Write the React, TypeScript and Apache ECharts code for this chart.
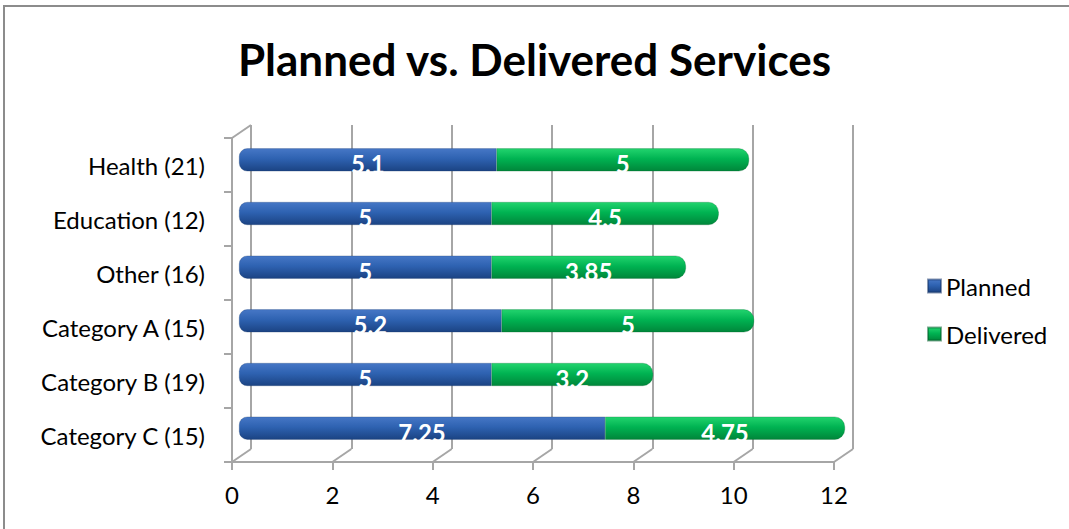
import React, { useEffect, useRef } from "react";
import * as echarts from "echarts";

const categories = ["Health (21)", "Education (12)", "Other (16)", "Category A (15)", "Category B (19)", "Category C (15)"];
const planned = [5.1, 5, 5, 5.2, 5, 7.25];
const delivered = [5, 4.5, 3.85, 5, 3.2, 4.75];
const xTicks = [0, 2, 4, 6, 8, 10, 12];
const titleText = "Planned vs. Delivered Services";

const FONT = "Lato, 'Open Sans', sans-serif";
const DEPTH_X = 19;
const DEPTH_Y = -13;

export default function App() {
  const ref = useRef<HTMLDivElement>(null);
  useEffect(() => {
    if (!ref.current) return;
    const chart = echarts.init(ref.current, undefined, { renderer: "svg" });
    const blue = new echarts.graphic.LinearGradient(0, 0, 0, 1, [
      { offset: 0, color: "#4677c6" },
      { offset: 0.45, color: "#2e62b1" },
      { offset: 1, color: "#1b4383" },
    ]);
    const green = new echarts.graphic.LinearGradient(0, 0, 0, 1, [
      { offset: 0, color: "#22d46e" },
      { offset: 0.45, color: "#00b352" },
      { offset: 1, color: "#00863a" },
    ]);
    const gridLineColor = "#a6a6a6";
    const labelStyle = {
      show: true,
      position: "inside",
      offset: [0, 4],
      color: "#fff",
      fontFamily: FONT,
      fontWeight: "bold",
      fontSize: 24,
    };
    const option: any = {
      animation: false,
      backgroundColor: "#ffffff",
      title: {
        text: titleText,
        left: "center",
        top: 32,
        textStyle: { fontFamily: FONT, fontWeight: "bold", fontSize: 44, color: "#000" },
      },
      legend: {
        orient: "vertical",
        left: 922,
        top: 267,
        itemWidth: 13,
        itemHeight: 13,
        itemGap: 20,
        icon: "rect",
        data: ["Planned", "Delivered"],
        textStyle: { fontFamily: FONT, fontSize: 24, color: "#000", lineHeight: 28 },
      },
      graphic: [
        {
          type: "rect",
          shape: { x: 4, y: 6, width: 1200, height: 700 },
          style: { fill: "none", stroke: "#8c8c8c", lineWidth: 2 },
          silent: true,
          z: 0,
        },
      ],
      grid: [
        { left: 232, right: 235, top: 138, bottom: 67 }, // front plane
        { left: 251, right: 216, top: 125, bottom: 80 }, // back plane
        { left: 239, right: 224, top: 133, bottom: 74 }, // bars
        { left: 232, right: 235, top: 138, bottom: 67 }, // connectors
      ],
      xAxis: [
        {
          gridIndex: 0,
          type: "value",
          min: 0,
          max: 12,
          interval: 2,
          axisLine: { show: true, lineStyle: { color: gridLineColor, width: 2 } },
          axisTick: { show: true, length: 8, lineStyle: { color: gridLineColor, width: 2 } },
          axisLabel: { margin: 20, fontFamily: FONT, fontSize: 24, color: "#000" },
          splitLine: { show: false },
        },
        {
          gridIndex: 1,
          type: "value",
          min: 0,
          max: 12,
          interval: 2,
          axisLine: { show: false },
          axisTick: { show: false },
          axisLabel: { show: false },
          splitLine: { show: true, lineStyle: { color: gridLineColor, width: 2 } },
        },
        { gridIndex: 2, type: "value", min: 0, max: 12, interval: 2, show: false },
        { gridIndex: 3, type: "value", min: 0, max: 12, interval: 2, show: false },
      ],
      yAxis: [
        {
          gridIndex: 0,
          type: "category",
          inverse: true,
          data: categories,
          axisLine: { show: true, lineStyle: { color: gridLineColor, width: 2 } },
          axisTick: { show: true, length: 8, lineStyle: { color: gridLineColor, width: 2 } },
          axisLabel: { margin: 27, fontFamily: FONT, fontSize: 24, color: "#000" },
        },
        { gridIndex: 1, type: "category", inverse: true, data: categories, show: false },
        { gridIndex: 2, type: "category", inverse: true, data: categories, show: false },
        { gridIndex: 3, type: "value", min: 0, max: 1, show: false },
      ],
      series: [
        {
          name: "Planned",
          type: "bar",
          stack: "total",
          xAxisIndex: 2,
          yAxisIndex: 2,
          barWidth: 23,
          data: planned,
          itemStyle: { color: blue, borderRadius: [8, 0, 0, 8], borderColor: "rgba(20,50,100,0.5)", borderWidth: 0.5 },
          label: labelStyle,
          z: 5,
        },
        {
          name: "Delivered",
          type: "bar",
          stack: "total",
          xAxisIndex: 2,
          yAxisIndex: 2,
          barWidth: 23,
          data: delivered,
          itemStyle: { color: green, borderRadius: [0, 10, 10, 0], borderColor: "rgba(0,90,40,0.5)", borderWidth: 0.5 },
          label: labelStyle,
          z: 5,
        },
        {
          name: "connectors",
          type: "custom",
          xAxisIndex: 3,
          yAxisIndex: 3,
          silent: true,
          data: [...xTicks.map((v) => [v, 0]), [0, 1]],
          renderItem: (params: any, api: any) => {
            const p = api.coord([api.value(0), api.value(1)]);
            return {
              type: "line",
              shape: { x1: p[0], y1: p[1], x2: p[0] + DEPTH_X, y2: p[1] + DEPTH_Y },
              style: { stroke: gridLineColor, lineWidth: 2 },
            };
          },
          z: 1,
        },
      ],
    };
    chart.setOption(option);
    return () => chart.dispose();
  }, []);
  return (
    <div
      ref={ref}
      style={{ position: "absolute", left: 0, top: 0, width: 1069, height: 529, background: "#fff" }}
    />
  );
}
